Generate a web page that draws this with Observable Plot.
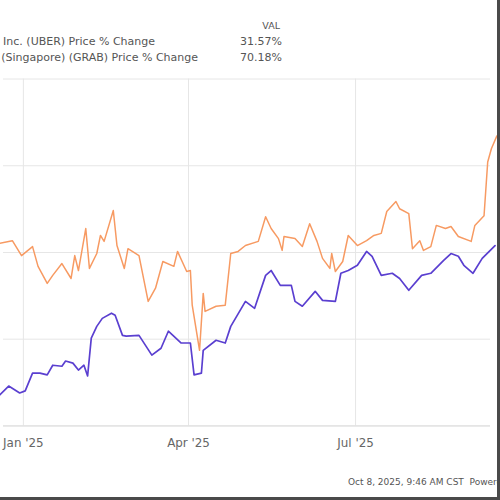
<!DOCTYPE html>
<html>
<head>
<meta charset="utf-8">
<script src="https://cdn.jsdelivr.net/npm/d3@7"></script>
<script src="https://cdn.jsdelivr.net/npm/@observablehq/plot@0.6"></script>
<style>
  html, body { margin: 0; padding: 0; background: #fff; }
  #wrap { position: relative; width: 500px; height: 500px; overflow: hidden; box-sizing: border-box;
          border-right: 3px solid #4a4a4a; border-bottom: 3px solid #4a4a4a; font-family: "DejaVu Sans", sans-serif; }
  .lg { position: absolute; white-space: nowrap; font-size: 11px; color: #555; line-height: 13px; text-align: right; }
  #chart { position: absolute; left: 0; top: 0; }
  #foot { position: absolute; left: 348px; top: 477px; font-size: 9px; color: #555; white-space: nowrap; }
</style>
</head>
<body>
<div id="wrap">
  <div id="chart"></div>
  <div class="lg" style="right:217px; top:19px; font-size:9.5px;">VAL</div>
  <div class="lg" style="right:342px; top:35px;" id="n0"></div>
  <div class="lg" style="right:215px; top:35px;" id="v0"></div>
  <div class="lg" style="right:299px; top:51px;" id="n1"></div>
  <div class="lg" style="right:215px; top:51px;" id="v1"></div>
  <div id="foot">Oct 8, 2025, 9:46 AM CST&nbsp;&nbsp;Powered by YCHARTS</div>
</div>
<script>
const seriesNames = ["Inc. (UBER) Price % Change", "(Singapore) (GRAB) Price % Change"];
const lastValues = ["31.57%", "70.18%"];
const seriesColors = ["#5a3fd0", "#f79a62"];
const tickDates = ["2025-01-01", "2025-04-01", "2025-07-01"];
const tickLabels = ["Jan '25", "Apr '25", "Jul '25"];
const yGrid = [-25, 0, 25, 50, 75];

const uberDates = ["2024-12-19","2024-12-24","2024-12-30","2025-01-02","2025-01-06","2025-01-10","2025-01-14","2025-01-17","2025-01-22","2025-01-24","2025-01-28","2025-01-31","2025-02-03","2025-02-05","2025-02-07","2025-02-10","2025-02-13","2025-02-18","2025-02-20","2025-02-24","2025-02-26","2025-03-05","2025-03-12","2025-03-17","2025-03-21","2025-03-28","2025-04-02","2025-04-04","2025-04-08","2025-04-09","2025-04-16","2025-04-21","2025-04-24","2025-05-02","2025-05-07","2025-05-13","2025-05-16","2025-05-21","2025-05-27","2025-05-29","2025-06-02","2025-06-09","2025-06-13","2025-06-20","2025-06-23","2025-06-27","2025-07-02","2025-07-07","2025-07-10","2025-07-15","2025-07-21","2025-07-25","2025-07-30","2025-08-06","2025-08-11","2025-08-18","2025-08-22","2025-08-26","2025-08-29","2025-09-03","2025-09-08","2025-09-15"];
const uberValues = [-16.1,-13.5,-15.5,-14.9,-9.8,-9.8,-10.3,-7.5,-7.8,-6.3,-6.9,-8.9,-7.5,-10.6,0.3,3.7,6.0,7.5,6.9,1.1,0.9,1.1,-4.6,-2.6,2.3,-1.1,-1.1,-10.3,-9.8,-3.2,-0.3,-1.1,3.7,10.9,8.9,18.4,19.8,15.5,15.5,10.9,9.5,13.8,11.2,10.9,19.0,19.8,21.3,25.3,23.9,18.4,19.0,17.5,14.1,18.4,19.0,22.7,24.7,23.9,21.3,19.0,23.3,27.0];

const grabDates = ["2024-12-19","2024-12-26","2024-12-31","2025-01-06","2025-01-09","2025-01-14","2025-01-17","2025-01-22","2025-01-27","2025-01-29","2025-01-31","2025-02-04","2025-02-06","2025-02-10","2025-02-12","2025-02-14","2025-02-19","2025-02-21","2025-02-25","2025-02-27","2025-03-05","2025-03-10","2025-03-14","2025-03-18","2025-03-24","2025-03-26","2025-03-31","2025-04-02","2025-04-03","2025-04-07","2025-04-09","2025-04-10","2025-04-16","2025-04-21","2025-04-24","2025-04-28","2025-05-02","2025-05-09","2025-05-13","2025-05-16","2025-05-20","2025-05-22","2025-05-23","2025-05-29","2025-06-02","2025-06-06","2025-06-10","2025-06-13","2025-06-17","2025-06-18","2025-06-20","2025-06-24","2025-06-27","2025-07-02","2025-07-07","2025-07-11","2025-07-15","2025-07-18","2025-07-23","2025-07-25","2025-07-30","2025-08-01","2025-08-05","2025-08-07","2025-08-11","2025-08-14","2025-08-19","2025-08-22","2025-08-26","2025-09-02","2025-09-04","2025-09-09","2025-09-11","2025-09-13","2025-09-16"];
const grabValues = [27.6,28.4,24.1,26.7,21.0,16.1,18.4,21.8,17.5,24.1,19.8,31.9,20.4,24.7,29.9,28.2,37.1,27.0,20.4,26.1,24.1,10.9,14.7,22.4,21.0,25.3,19.5,19.8,9.8,-3.2,13.2,8.0,9.5,9.8,24.7,25.3,27.0,28.2,35.3,31.9,29.0,25.6,29.6,29.0,26.7,33.3,28.2,23.3,20.4,24.7,19.5,22.4,29.9,27.0,28.4,29.9,30.5,36.8,39.7,37.6,36.2,26.1,28.4,25.6,26.7,32.8,31.9,32.5,29.6,28.2,32.8,35.6,51.1,54.9,58.6];

document.getElementById("n0").textContent = seriesNames[0];
document.getElementById("n1").textContent = seriesNames[1];
document.getElementById("v0").textContent = lastValues[0];
document.getElementById("v1").textContent = lastValues[1];

const parse = d3.utcParse("%Y-%m-%d");
const uber = uberDates.map((d, i) => ({date: parse(d), value: uberValues[i]}));
const grab = grabDates.map((d, i) => ({date: parse(d), value: grabValues[i]}));
const ticks = tickDates.map(parse);

const chart = Plot.plot({
  width: 500,
  height: 460,
  marginTop: 79,
  marginBottom: 32,
  marginLeft: 0,
  marginRight: 0,
  style: {fontFamily: "'DejaVu Sans', sans-serif", background: "transparent"},
  x: {type: "utc", domain: [new Date(Date.UTC(2024, 11, 19, 13)), new Date(Date.UTC(2025, 8, 16, 8))]},
  y: {domain: [-25, 75]},
  marks: [
    Plot.gridX(ticks, {stroke: "#e6e6e6", strokeOpacity: 1, strokeWidth: 1}),
    Plot.gridY(yGrid, {stroke: "#e6e6e6", strokeOpacity: 1, strokeWidth: 1, insetLeft: 3, insetRight: 7}),
    Plot.ruleY([-25], {stroke: "#dcdcdc", insetLeft: 3, insetRight: 7}),
    Plot.axisX(ticks, {tickSize: 0, tickPadding: 13, fontSize: 12, fill: "#666", tickFormat: (d, i) => tickLabels[i]}),
    Plot.axisY({ticks: [], label: null}),
    Plot.line(grab, {x: "date", y: "value", stroke: seriesColors[1], strokeWidth: 1.5, curve: "linear"}),
    Plot.line(uber, {x: "date", y: "value", stroke: seriesColors[0], strokeWidth: 1.7, curve: "linear"})
  ]
});
document.getElementById("chart").appendChild(chart);
</script>
</body>
</html>
